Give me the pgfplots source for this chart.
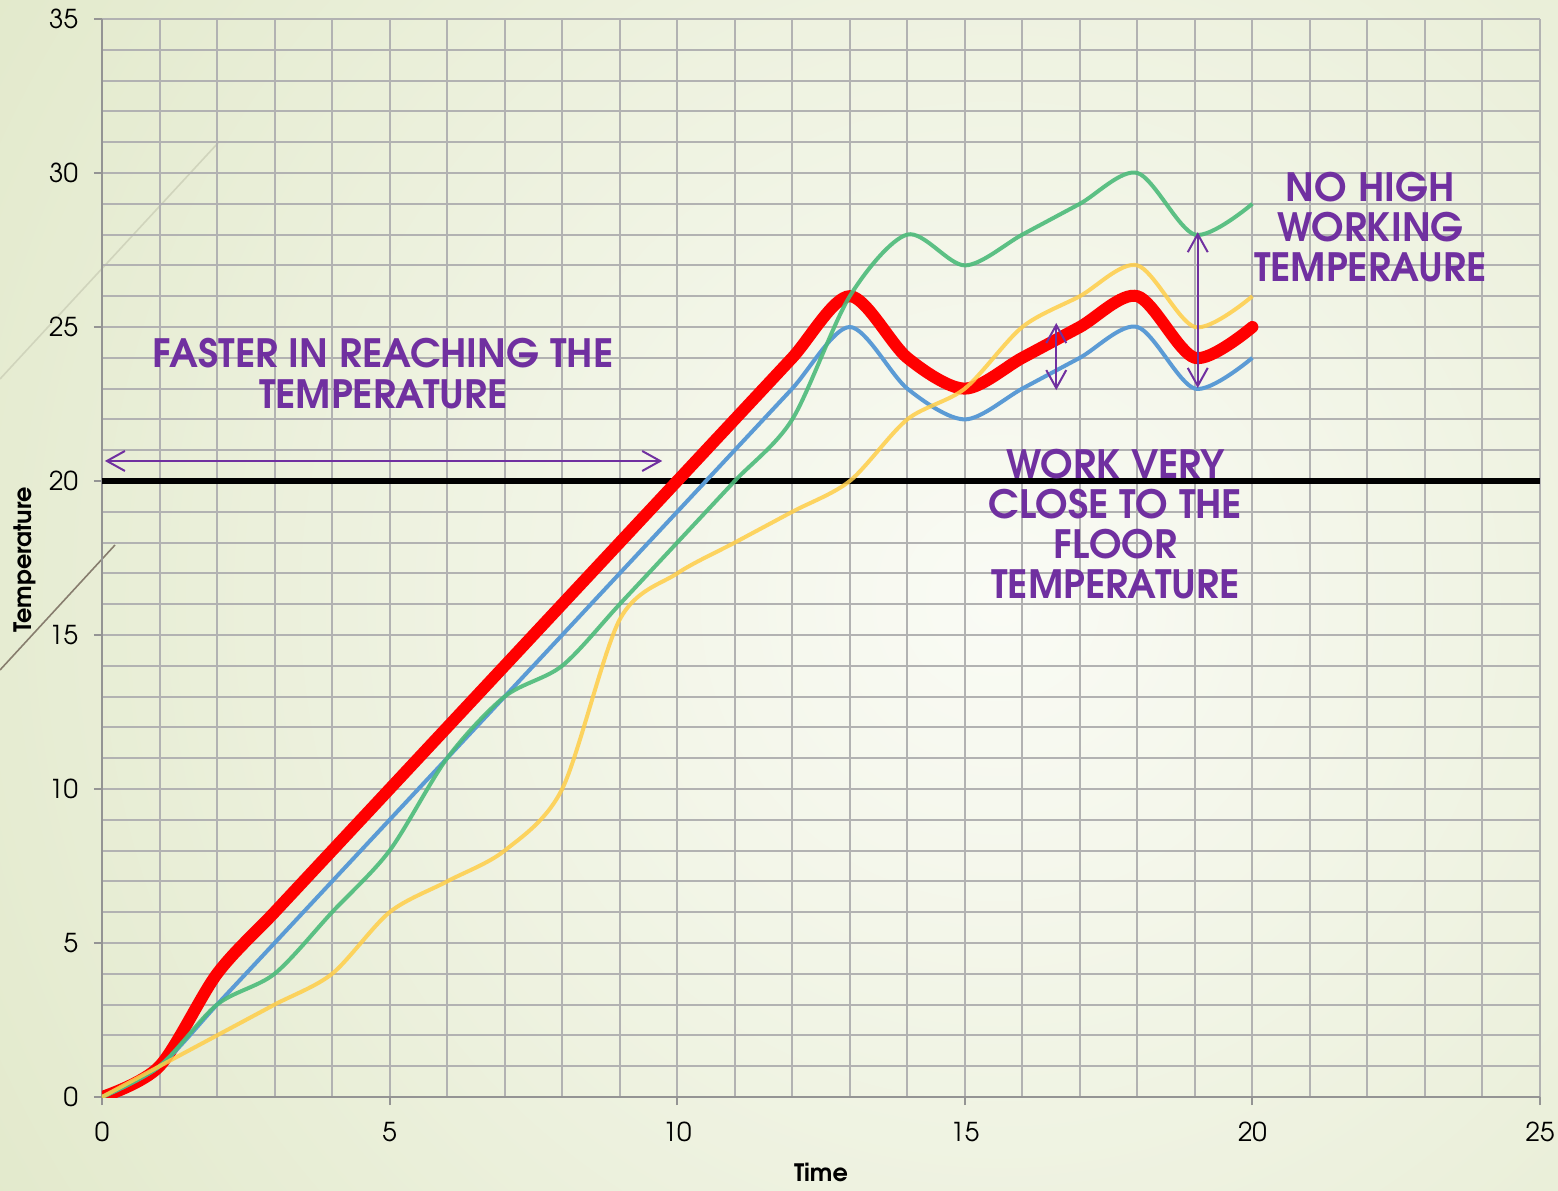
\documentclass[border=0pt]{standalone}
\usepackage{pgfplots}
\pgfplotsset{compat=1.18}
\usepackage{pgfplotstable}
\usepackage{fontspec}
\setmainfont{TeX Gyre Adventor}
\usetikzlibrary{arrows.meta}

\definecolor{bgedge}{RGB}{226,233,203}
\definecolor{bgmid}{RGB}{250,251,245}
\definecolor{purp}{RGB}{112,48,160}
\definecolor{sblue}{RGB}{91,155,213}
\definecolor{sgreen}{RGB}{76,187,122}
\definecolor{syellow}{RGB}{255,206,72}

% temperature vs time, four runs
\pgfplotstableread{
t  red blue green yellow
0  0   0    0     0
1  1   1    1     1
2  4   3    3     2
3  6   5    4     3
4  8   7    6     4
5  10  9    8     6
6  12  11   11    7
7  14  13   13    8
8  16  15   14    10
9  18  17   16    15.5
10 20  19   18    17
11 22  21   20    18
12 24  23   22    19
13 26  25   26    20
14 24  23   28    22
15 23  22   27    23
16 24  23   28    25
17 25  24   29    26
18 26  25   30    27
19 24  23   28    25
20 25  24   29    26
}\temps

\begin{document}
\begin{tikzpicture}
% slide background
\fill[bgedge] (-51pt,-46.5pt) rectangle (728pt,548.5pt);
\begin{scope}
  \clip (-51pt,-46.5pt) rectangle (728pt,548.5pt);
  \shade[inner color=bgmid, outer color=bgedge] (449pt,248pt) circle (600pt);
  \draw[color={rgb,255:red,208;green,212;blue,188}, line width=0.8pt] (-51pt,359pt) -- (58pt,477pt);
  \draw[color={rgb,255:red,135;green,125;blue,110}, line width=0.8pt] (-51pt,213.5pt) -- (6.5pt,276pt);
\end{scope}

\begin{axis}[
    scale only axis,
    width=719pt, height=539pt,
    xmin=0, xmax=25,
    ymin=0, ymax=35,
    xtick={0,5,...,25},
    ytick={0,5,...,35},
    minor tick num=4,
    grid=both,
    major grid style={black!30, line width=1pt},
    minor grid style={black!30, line width=1pt},
    axis lines=left,
    axis line style={-, black!42, line width=1pt},
    tick align=outside,
    major tick length=4pt,
    minor tick length=0pt,
    tick style={black!42, line width=1pt},
    ticklabel style={font=\fontsize{13}{15}\selectfont},
    /pgf/number format/assume math mode=true,
    xticklabel style={yshift=-5pt},
    yticklabel style={xshift=-4.5pt},
]

    % floor temperature
    \addplot[black, line width=2.6pt, mark=none] coordinates {(0,20) (25,20)};

    \addplot[red, line width=6pt, smooth, line cap=round, mark=none] table[x=t, y=red] {\temps};
    \addplot[sblue, line width=2pt, smooth, mark=none] table[x=t, y=blue] {\temps};
    \addplot[sgreen, line width=2pt, smooth, mark=none, opacity=0.9] table[x=t, y=green] {\temps};
    \addplot[syellow, line width=2pt, smooth, mark=none, opacity=0.85] table[x=t, y=yellow] {\temps};

    % annotations
    \draw[purp, line width=1pt, {Straight Barb[length=9pt,width=10pt]}-{Straight Barb[length=9pt,width=10pt]}]
        (axis cs:0.05,20.65) -- (axis cs:9.74,20.65);
    \draw[purp, line width=1pt, {Straight Barb[length=9pt,width=10pt]}-{Straight Barb[length=9pt,width=10pt]}]
        (axis cs:19.05,28.08) -- (axis cs:19.05,23.02);
    \draw[purp, line width=1pt, {Straight Barb[length=9pt,width=10pt]}-{Straight Barb[length=9pt,width=10pt]}]
        (axis cs:16.59,25.13) -- (axis cs:16.59,22.95);

    \node[purp, font=\bfseries\fontsize{19.5}{20.5}\selectfont, align=center] at (axis cs:4.89,23.49)
        {FASTER IN REACHING THE\\TEMPERATURE};
    \node[purp, font=\bfseries\fontsize{19.5}{20}\selectfont, align=center] at (axis cs:17.62,18.6)
        {WORK VERY\\CLOSE TO THE\\FLOOR\\TEMPERATURE};
    \node[purp, font=\bfseries\fontsize{19.5}{20}\selectfont, align=center] at (axis cs:22.05,28.26)
        {NO HIGH\\WORKING\\TEMPERAURE};
\end{axis}

\node[font=\bfseries\fontsize{12}{14}\selectfont] at (359.5pt,-37.5pt) {Time};
\node[font=\bfseries\fontsize{12}{14}\selectfont, rotate=90] at (-38.5pt,268.5pt) {Temperature};

\pgfresetboundingbox
\path[use as bounding box] (-51pt,-46.5pt) rectangle (728pt,548.5pt);
\end{tikzpicture}
\end{document}
